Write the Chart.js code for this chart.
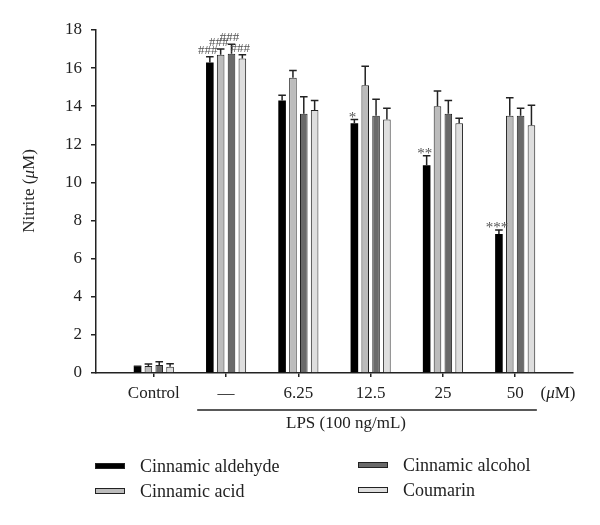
<!DOCTYPE html>
<html>
<head>
<meta charset="utf-8">
<script src="https://cdn.jsdelivr.net/npm/chart.js@4.4.1/dist/chart.umd.min.js"></script>
<style>
  body { margin: 0; background: #fff; }
</style>
</head>
<body>
<canvas id="nitrite-chart" width="600" height="525"></canvas>
<script>
// values (nitrite, uM)
let categories = ['Control', '\u2014', '6.25', '12.5', '25', '50']
let seriesNames = ['Cinnamic aldehyde', 'Cinnamic acid', 'Cinnamic alcohol', 'Coumarin']
let aldehyde = [0.33, 16.3, 14.3, 13.1, 10.9, 7.3]
let acid = [0.37, 16.7, 15.5, 15.1, 14.0, 13.5]
let alcohol = [0.42, 16.75, 13.6, 13.5, 13.6, 13.5]
let coumarin = [0.33, 16.5, 13.8, 13.3, 13.1, 13.0]
let aldehydeErr = [0.02, 0.3, 0.27, 0.2, 0.5, 0.2]
let acidErr = [0.1, 0.3, 0.37, 1.0, 0.8, 0.95]
let alcoholErr = [0.17, 0.5, 0.9, 0.87, 0.7, 0.4]
let coumarinErr = [0.15, 0.2, 0.5, 0.6, 0.27, 1.05]
let aldehydeMarks = ['', '###', '', '*', '**', '***']
let acidMarks = ['', '###', '', '', '', '']
let alcoholMarks = ['', '###', '', '', '', '']
let coumarinMarks = ['', '###', '', '', '', '']
let yTicks = [0, 2, 4, 6, 8, 10, 12, 14, 16, 18]

let seriesValues = [aldehyde, acid, alcohol, coumarin]
let seriesErrors = [aldehydeErr, acidErr, alcoholErr, coumarinErr]
let seriesMarks = [aldehydeMarks, acidMarks, alcoholMarks, coumarinMarks]
let fills = ['#000000', '#bcbcbc', '#6a6a6a', '#dedede']

let serif = "'Liberation Serif', serif"
let ink = '#222'

// draws "Nitrite (μM)" style strings with an italic μ
function drawMixed(ctx, parts, x, y, size) {
    let total = 0
    parts.forEach(p => {
        ctx.font = (p.italic ? 'italic ' : '') + size + 'px ' + serif
        total += ctx.measureText(p.text).width
    })
    let cx = x - total / 2
    ctx.textAlign = 'left'
    parts.forEach(p => {
        ctx.font = (p.italic ? 'italic ' : '') + size + 'px ' + serif
        ctx.fillText(p.text, cx, y)
        cx += ctx.measureText(p.text).width
    })
}

let whiteBg = {
    id: 'whiteBg',
    beforeDraw(chart) {
        let ctx = chart.ctx
        ctx.save()
        ctx.fillStyle = '#fff'
        ctx.fillRect(0, 0, chart.width, chart.height)
        ctx.restore()
    }
}

let errorBars = {
    id: 'errorBars',
    afterDatasetsDraw(chart) {
        let ctx = chart.ctx
        let yScale = chart.scales.y
        chart.data.datasets.forEach((ds, i) => {
            chart.getDatasetMeta(i).data.forEach((bar, j) => {
                let top = yScale.getPixelForValue(seriesValues[i][j] + seriesErrors[i][j])
                let half = bar.width / 2
                ctx.save()
                ctx.strokeStyle = ink
                ctx.lineWidth = 1.5
                ctx.beginPath()
                ctx.moveTo(bar.x, bar.y)
                ctx.lineTo(bar.x, top)
                ctx.moveTo(bar.x - half, top)
                ctx.lineTo(bar.x + half, top)
                ctx.stroke()
                let mark = seriesMarks[i][j]
                if (mark) {
                    let isHash = mark.indexOf('#') >= 0
                    ctx.font = (isHash ? 13 : 15) + 'px ' + serif
                    ctx.fillStyle = '#555'
                    ctx.textAlign = 'center'
                    ctx.textBaseline = isHash ? 'bottom' : 'alphabetic'
                    ctx.fillText(mark, bar.x - 2, isHash ? top : top + 2)
                }
                ctx.restore()
            })
        })
    }
}

let extras = {
    id: 'extras',
    afterDraw(chart) {
        let ctx = chart.ctx
        let x = chart.scales.x
        let area = chart.chartArea
        ctx.save()
        ctx.fillStyle = ink
        ctx.textBaseline = 'middle'

        // y axis title
        ctx.save()
        ctx.translate(30, 191)
        ctx.rotate(-Math.PI / 2)
        drawMixed(ctx, [{ text: 'Nitrite (' }, { text: '\u03bc', italic: true }, { text: 'M)' }], 0, 0, 17)
        ctx.restore()

        // unit at the end of the x axis
        drawMixed(ctx, [{ text: '(' }, { text: '\u03bc', italic: true }, { text: 'M)' }], 558, area.bottom + 21, 17)

        // LPS bracket
        let lineY = area.bottom + 37
        ctx.strokeStyle = ink
        ctx.lineWidth = 1.5
        ctx.beginPath()
        ctx.moveTo(x.getPixelForValue(0.6), lineY)
        ctx.lineTo(x.getPixelForValue(5.3), lineY)
        ctx.stroke()
        ctx.font = '17px ' + serif
        ctx.textAlign = 'center'
        ctx.fillText('LPS (100 ng/mL)', 346, lineY + 14)

        // legend, two columns
        let cols = [95, 358]
        let rows = [466, 491]
        seriesNames.forEach((name, i) => {
            let col = Math.floor(i / 2)
            let row = i % 2
            let sx = cols[col]
            let sy = rows[row] - (col === 1 ? 1 : 0)
            ctx.fillStyle = fills[i]
            ctx.fillRect(sx, sy - 3, 30, 6)
            ctx.strokeStyle = ink
            ctx.lineWidth = 1
            ctx.strokeRect(sx + 0.5, sy - 3 + 0.5, 29, 5)
            ctx.fillStyle = ink
            ctx.font = '18px ' + serif
            ctx.textAlign = 'left'
            ctx.fillText(name, sx + 45, sy + 1)
        })
        ctx.restore()
    }
}

let datasets = seriesNames.map((name, i) => ({
    label: name,
    data: seriesValues[i].map((v, j) => ({ x: j, y: v })),
    backgroundColor: fills[i],
    borderColor: ink,
    borderWidth: i === 0 ? 0 : 1,
    categoryPercentage: 0.6,
    barPercentage: 0.7
}))

new Chart(document.getElementById('nitrite-chart'), {
    type: 'bar',
    data: { datasets: datasets },
    options: {
        responsive: false,
        animation: false,
        devicePixelRatio: 1,
        layout: { padding: { top: 30, right: 27, left: 0, bottom: 0 } },
        plugins: {
            legend: { display: false },
            tooltip: { enabled: false }
        },
        scales: {
            x: {
                type: 'linear',
                min: -0.8,
                max: 5.8,
                offset: false,
                afterBuildTicks: scale => {
                    scale.ticks = categories.map((c, i) => ({ value: i }))
                },
                afterFit: scale => { scale.height = 152 },
                grid: { drawOnChartArea: false, drawTicks: true, tickLength: 4, color: ink, lineWidth: 1.5, offset: false },
                border: { display: true, color: ink, width: 1.5 },
                ticks: {
                    autoSkip: false,
                    maxRotation: 0,
                    padding: 6,
                    color: ink,
                    font: { family: serif, size: 17 },
                    callback: v => categories[v]
                }
            },
            y: {
                min: 0,
                max: 18,
                afterBuildTicks: scale => {
                    scale.ticks = yTicks.map(v => ({ value: v }))
                },
                afterFit: scale => { scale.width = 96 },
                grid: { drawOnChartArea: false, drawTicks: true, tickLength: 5, color: ink, lineWidth: 1.5 },
                border: { display: true, color: ink, width: 1.5 },
                ticks: {
                    padding: 9,
                    color: ink,
                    font: { family: serif, size: 17 }
                }
            }
        }
    },
    plugins: [whiteBg, errorBars, extras]
})
</script>
</body>
</html>
